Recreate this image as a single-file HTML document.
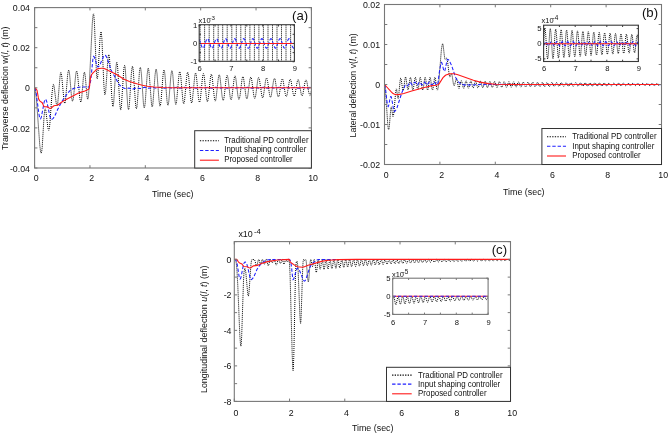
<!DOCTYPE html><html><head><meta charset="utf-8"><style>html,body{margin:0;padding:0;background:#fff;overflow:hidden}svg{display:block}text{fill:#111}.k,.kl,.b,.r{fill:none}.k{stroke:#000;stroke-width:1;stroke-dasharray:1 1}.kl{stroke:#000;stroke-width:1.1;stroke-dasharray:1.3 1.3}.b{stroke:#1f1fff;stroke-width:1.05;stroke-dasharray:3.4 1.9}.r{stroke:#ff1a1a;stroke-width:1.1}</style></head><body>
<svg style="filter:blur(0.3px)" width="668" height="433" viewBox="0 0 668 433" font-family="Liberation Sans, sans-serif">
<rect width="668" height="433" fill="#fff"/>
<defs>
<clipPath id="ca"><rect x="34.60" y="7.60" width="276.80" height="160.40"/></clipPath>
<clipPath id="ia"><rect x="199.20" y="24.70" width="95.20" height="36.60"/></clipPath>
<clipPath id="cb"><rect x="384.50" y="4.50" width="277.00" height="160.00"/></clipPath>
<clipPath id="ib"><rect x="543.60" y="25.20" width="94.80" height="36.30"/></clipPath>
<clipPath id="cc"><rect x="234.30" y="241.60" width="276.20" height="159.80"/></clipPath>
<clipPath id="ic"><rect x="392.70" y="278.20" width="95.40" height="36.20"/></clipPath>
</defs>
<g clip-path="url(#ca)">
<path class="k" d="M34.6 87.8l.4 .5l.4 2.0l1 8.1l3.4 47.1l.7 5.7l.4 1.5l.3 .5l.5 -1.6l.5 -4.4l1.8 -30.0l.8 -7.8l.2 -.5l.3 .1l.5 1.5l2.1 17.1l.5 2.4l.3 .3l.2 -.2l.5 -1.9l.5 -4.9l2.1 -29.9l1 -8.0l.2 -.8l.3 -.2l.6 1.7l2.1 17.1l.6 2.3l.2 .3l.2 -.2l.5 -2.0l.4 -4.1l1.9 -22.6l.4 -3.2l.4 -1.1l.2 .0l.3 .7l.4 2.7l2.1 22.6l.4 3.4l.5 1.4l.2 .0l.3 -.7l.4 -3.0l2 -24.5l.6 -4.1l.5 -1.1l.4 1.1l.5 3.1l1.8 21.3l.5 3.7l.4 1.9l.2 .1l.3 -.3l.6 -2.6l2.2 -22.4l.5 -3.7l.3 -.9l.3 -.3l.4 1.0l.5 2.7l2 21.7l.5 3.6l.5 1.9l.2 .3l.2 -.2l.6 -2.9l1.8 -21.6l.5 -3.7l.4 -1.6l.2 .0l.3 .9l.5 3.2l1.7 19.9l.5 2.6l.2 .4l.2 .0l.6 -3.5l.7 -9.7l3.1 -62.5l.6 -7.3l.4 -2.0l.3 -.4l.3 1.9l.5 6.7l1.8 44.9l.4 8.0l.4 3.1l.2 .4l.3 -.7l.4 -3.6l2.1 -35.6l.6 -5.8l.5 -1.4l.3 1.5l.5 5.7l1.9 44.5l.5 7.5l.4 3.6l.2 .3l.3 -.6l.5 -3.1l2.1 -30.4l.5 -4.9l.5 -1.3l.5 1.8l.5 5.9l1.9 33.4l.9 10.2l.3 .8l.2 -.3l.6 -3.8l2.1 -33.4l.6 -5.4l.4 -1.4l.4 1.3l.5 4.3l2 34.8l.5 5.0l.4 2.1l.2 -.1l.3 -1.0l.4 -4.0l2.1 -32.6l.5 -5.4l.5 -1.3l.4 1.1l.4 3.9l2.1 32.0l.5 5.6l.5 1.7l.2 -.1l.2 -1.1l.5 -3.9l2 -31.4l.6 -5.3l.4 -1.6l.4 .9l.5 3.5l2.1 31.6l.5 5.1l.5 1.4l.5 -1.5l.5 -5.1l2 -29.9l.5 -3.8l.3 -1.1l.2 -.1l.4 1.6l.6 5.1l2 29.2l.5 3.6l.3 1.0l.5 -1.1l.5 -3.6l2 -28.7l.6 -4.8l.4 -1.4l.5 1.3l.5 4.6l2.2 28.9l.4 3.2l.4 .7l.4 -.8l.4 -3.3l2 -27.3l.6 -4.9l.5 -1.5l.1 .1l.3 .9l.5 3.3l2 26.7l.6 4.6l.4 1.4l.5 -1.1l.5 -3.3l2 -26.1l.5 -4.5l.5 -1.2l.5 1.2l.5 4.3l2 25.5l.5 3.3l.5 1.1l.3 -.9l.5 -3.0l2 -24.9l.6 -4.4l.4 -1.4l.2 .1l.3 .8l.5 3.1l2 24.4l.6 4.2l.4 1.2l.5 -1.0l.4 -3.1l2.1 -23.8l.5 -4.0l.5 -1.1l.4 1.1l.6 3.9l2 23.3l.5 3.0l.5 .9l.3 -.7l.5 -2.8l2 -22.7l.6 -4.0l.4 -1.3l.5 .9l.5 2.8l2 22.2l.5 3.8l.5 1.1l.5 -.9l.4 -2.8l2.1 -21.8l.5 -3.6l.5 -1.0l.3 .7l.5 2.5l2 21.2l.6 3.8l.4 1.2l.2 .0l.3 -.7l.5 -2.5l2 -20.8l.6 -3.6l.4 -1.1l.5 .8l.4 2.5l2.1 20.4l.5 3.4l.5 1.0l.4 -.9l.6 -3.3l2.1 -20.5l.5 -2.2l.3 -.6l.4 .6l.5 2.3l2 19.4l.6 3.5l.4 1.1l.5 -.7l.4 -2.3l2.1 -19.0l.5 -3.3l.5 -1.0l.5 .8l.4 2.3l2 18.6l.6 3.1l.5 .9l.4 -.8l.6 -3.0l2 -18.2l.5 -2.3l.4 -.8l.4 .6l.5 2.1l2 17.7l.5 3.1l.5 1.0l.5 -.6l.4 -2.2l2.1 -17.3l.5 -3.0l.5 -.9l.4 .7l.5 2.2l2 17.0l.6 2.8l.4 .8l.5 -.8l.6 -2.7l2 -16.6l.5 -2.1l.4 -.7l.4 .5l.4 2.0l2.1 16.1l.5 2.9l.5 .9l.5 -.6l.4 -2.0l2 -15.8l.6 -2.7l.5 -.8l.4 .6l.5 2.0l2 15.5l.6 2.6l.4 .7l.5 -.7l.5 -2.0l1.9 -14.6l.5 -2.7l.5 -.9l.5 .5l.4 1.8l2.1 14.7l.5 2.6l.5 .8l.4 -.5l.5 -1.9l2 -14.4l.6 -2.5l.4 -.7l.5 .6l.5 1.9l2 14.1l.5 2.1l.4 .8l.5 -.4l.4 -1.6l2.1 -13.8l.5 -2.4l.5 -.8l.5 .4l.4 1.7l2 13.5l.6 2.3l.5 .7l.4 -.5l.5 -1.7l2 -13.1l.6 -2.3l.4 -.6l.5 .6l.4 1.6l2 12.4l.5 2.4l.5 .8l.5 -.4l.4 -1.5l2.1 -12.5l.5 -2.3l.5 -.7l.4 .4l.5 1.5l2 12.3l.5 1.9l.4 .9l.5 -.3l.6 -1.7l2 -12.0l.5 -1.8l.4 -.8l.5 .3l.5 1.7l2 11.4l.4 1.9l.5 .9l.2 .0l.3 -.2l.5 -1.5l2 -11.5l.5 -1.8l.5 -.8l.4 .2l.6 1.5l1.8 10.4l.9 3.0l.3 .4l.5 -.5l1 -4.1"/>
<path class="b" d="M34.6 87.8l.3 .2l.3 .7l.8 3.3l2.8 21.0l.6 3.6l.6 2.0l.3 .3l.4 -.2l.7 -1.8l2.7 -14.6l.7 -2.3l.3 -.6l.3 -.2l.4 .2l.3 .6l.9 2.4l2.4 11.6l.9 3.6l.7 1.6l.4 .3l.5 -.2l1.3 -1.0l1.3 -1.6l3.1 -7.1l2.9 -5.6l2.5 -4.2l4.3 -6.1l2.7 -3.1l1.6 -1.1l1.8 -.9l4.2 -1.2l3 -.4l8.3 .0l.2 -.2l.8 -2.3l.9 -4.4l1.9 -19.2l.4 -3.4l.4 -1.1l.5 .3l.6 1.1l2.5 8.0l.5 1.0l.5 .1l.8 -.6l.9 -1.3l3.7 -8.5l.7 -1.0l.7 -.4l.5 .2l.5 .6l1.2 2.2l3.4 10.3l1.1 2.9l3.9 6.5l3 5.9l.9 1.2l2.7 2.2l1.5 .9l1.4 .4l1.1 .1l3 -.4l2.8 .9l1 .1l3.6 -1.2l1 .0l2.1 .5l1 .1l1.1 -.2l2 -.9l1 -.1l3.9 1.0l4 -1.0l3.9 1.0l3.9 -1.0l.9 .1l2.1 .7l1 .2l3.9 -1.0l4 1.0l4 -1.0l3.9 1.0l3.9 -1.0l.9 .1l2.1 .7l1 .2l4 -1.0l3.9 1.0l4 -1.0l4 1.0l3.8 -1.0l4.1 1.0l3.9 -1.0l3.9 1.0l4 -1.0l4 1.0l3.9 -1.0l4 1.0l3.9 -1.0l4 1.0l3.9 -1.0l4 1.0l3.9 -1.0l4 1.0l3.9 -1.0l4 1.0l3.9 -1.0l.9 .1l2.1 .8l1 .1l3.9 -1.0l.9 .1l2.1 .8l1.1 .1l3.7 -1.0l1.1 .1l2 .8l1 .1l3.9 -1.0l.9 .1l2.1 .8l1 .1l1 -.1l2.7 -.9l1.1 .1l2.1 .7l1 .2l1 -.1l2.3 -.8l1.4 .0"/>
<path class="r" d="M34.6 87.8l1.1 .6l1.3 1.8l1.4 7.7l.4 1.5l1.2 1.7l2.2 1.6l1.7 3.7l.4 .2l3.2 .3l2 1.3l.6 .3l1.1 -.5l2.7 -2.2l3.1 -.6l1 -.3l3.5 -2.7l3.7 -2.3l12.4 -6.4l2.1 -.9l5.2 -1.5l3.6 -1.8l.6 -.7l.3 -1.2l1.2 -10.4l1.1 -2.5l1.3 -1.7l4 -3.6l1 -.5l3.4 -.5l1.9 .0l1.5 .5l3.5 1.9l7.9 3.7l7.4 4.7l5.8 2.4l7.4 2.4l5.5 1.5l5.1 1.0l6.6 .7l8.2 .5l10 .3l139.2 .0"/>
</g>
<rect x="34.60" y="7.60" width="276.80" height="160.40" fill="none" stroke="#777" stroke-width="1.1"/>
<path d="M34.60 168.00v-2.8M34.60 7.60v2.8M89.96 168.00v-2.8M89.96 7.60v2.8M145.32 168.00v-2.8M145.32 7.60v2.8M200.68 168.00v-2.8M200.68 7.60v2.8M256.04 168.00v-2.8M256.04 7.60v2.8M311.40 168.00v-2.8M311.40 7.60v2.8M34.60 168.00h2.8M311.40 168.00h-2.8M34.60 147.95h2.8M311.40 147.95h-2.8M34.60 127.90h2.8M311.40 127.90h-2.8M34.60 107.85h2.8M311.40 107.85h-2.8M34.60 87.80h2.8M311.40 87.80h-2.8M34.60 67.75h2.8M311.40 67.75h-2.8M34.60 47.70h2.8M311.40 47.70h-2.8M34.60 27.65h2.8M311.40 27.65h-2.8M34.60 7.60h2.8M311.40 7.60h-2.8" stroke="#777" stroke-width="0.99" fill="none"/>
<text x="30.00" y="11.20" font-size="9.240000000000002" text-anchor="end"  textLength="17.13" lengthAdjust="spacingAndGlyphs">0.04</text>
<text x="30.00" y="51.30" font-size="9.240000000000002" text-anchor="end"  textLength="17.13" lengthAdjust="spacingAndGlyphs">0.02</text>
<text x="30.00" y="91.40" font-size="9.240000000000002" text-anchor="end"  textLength="4.89" lengthAdjust="spacingAndGlyphs">0</text>
<text x="30.00" y="131.50" font-size="9.240000000000002" text-anchor="end"  textLength="20.06" lengthAdjust="spacingAndGlyphs">-0.02</text>
<text x="30.00" y="171.60" font-size="9.240000000000002" text-anchor="end"  textLength="20.06" lengthAdjust="spacingAndGlyphs">-0.04</text>
<text x="36.30" y="180.80" font-size="9.240000000000002" text-anchor="middle"  textLength="4.89" lengthAdjust="spacingAndGlyphs">0</text>
<text x="91.66" y="180.80" font-size="9.240000000000002" text-anchor="middle"  textLength="4.89" lengthAdjust="spacingAndGlyphs">2</text>
<text x="147.02" y="180.80" font-size="9.240000000000002" text-anchor="middle"  textLength="4.89" lengthAdjust="spacingAndGlyphs">4</text>
<text x="202.38" y="180.80" font-size="9.240000000000002" text-anchor="middle"  textLength="4.89" lengthAdjust="spacingAndGlyphs">6</text>
<text x="257.74" y="180.80" font-size="9.240000000000002" text-anchor="middle"  textLength="4.89" lengthAdjust="spacingAndGlyphs">8</text>
<text x="313.10" y="180.80" font-size="9.240000000000002" text-anchor="middle"  textLength="9.79" lengthAdjust="spacingAndGlyphs">10</text>
<text x="172.80" y="197.10" font-size="8.9" text-anchor="middle" >Time (sec)</text>
<text transform="translate(7.6 88.3) rotate(-90)" font-size="8.2" text-anchor="middle" textLength="123.5" lengthAdjust="spacingAndGlyphs">Transverse deflection w(<tspan font-style="italic">l</tspan>, <tspan font-style="italic">t</tspan>) (m)</text>
<text x="300.10" y="20.30" font-size="13.2" text-anchor="middle" >(a)</text>
<rect x="199.2" y="24.7" width="95.20" height="36.60" fill="#fff"/>
<g clip-path="url(#ia)">
<path class="k" d="M200.1 24.7V61.3M204.6 24.7V61.3M209.2 24.7V61.3M213.7 24.7V61.3M218.2 24.7V61.3M222.7 24.7V61.3M227.2 24.7V61.3M231.8 24.7V61.3M236.3 24.7V61.3M240.8 24.7V61.3M245.3 24.7V61.3M249.9 24.7V61.3M254.4 24.7V61.3M258.9 24.7V61.3M263.4 24.7V61.3M268.0 24.7V61.3M272.5 24.7V61.3M277.0 24.7V61.3M281.5 24.7V61.3M286.0 24.7V61.3M290.6 24.7V61.3"/>
<path class="b" d="M199.2 39.4l.7 1.7l1.9 5.7l.6 1.0l.5 .4l.5 -.2l.5 -.8l2.4 -7.0l.6 -1.1l.6 -.4l.5 .3l.5 .8l2.3 6.9l.6 1.1l.6 .4l.5 -.2l.5 -.9l2.4 -6.9l.6 -1.2l.6 -.3l.4 .3l.5 .8l2.4 6.9l.6 1.1l.5 .4l.5 -.2l.6 -.8l2.3 -7.0l.6 -1.1l.6 -.4l.5 .3l.5 .8l2.3 6.8l.6 1.2l.6 .4l.5 -.2l.5 -.9l2.4 -6.9l.6 -1.1l.6 -.4l.5 .3l.5 .8l2.3 6.9l.6 1.1l.6 .4l.5 -.2l.5 -.9l2.4 -7.0l.6 -1.1l.5 -.3l.5 .3l.6 .8l2.3 6.9l.6 1.1l.5 .4l.5 -.2l.6 -.8l2.3 -7.0l.6 -1.1l.6 -.4l.5 .3l.5 .8l2.3 6.9l.6 1.1l.6 .4l.5 -.2l.5 -.9l2.4 -6.9l.6 -1.2l.6 -.3l.5 .3l.5 .8l2.3 6.8l.6 1.1l.5 .5l.5 -.2l.6 -.8l2.4 -7.1l.6 -1.0l.5 -.4l.5 .3l.6 .9l2.2 6.7l.6 1.1l.5 .5l.6 -.2l.5 -.8l2.4 -7.0l.6 -1.1l.6 -.4l.5 .3l.6 .9l2.2 6.5l.5 1.2l.5 .5l.6 .0l.6 -.8l2.4 -7.2l.6 -1.1l.6 -.3l.5 .3l.6 1.1l1.9 5.8l.7 1.6l.8 .7l.4 -.1l.4 -.6"/>
<path class="r" d="M199.2 43.5l95.2 .0"/>
</g>
<rect x="199.20" y="24.70" width="95.20" height="36.60" fill="none" stroke="#3a3a3a" stroke-width="1.1"/>
<path d="M199.20 61.30v-1.8M199.20 24.70v1.8M215.07 61.30v-1.8M215.07 24.70v1.8M230.93 61.30v-1.8M230.93 24.70v1.8M246.80 61.30v-1.8M246.80 24.70v1.8M262.67 61.30v-1.8M262.67 24.70v1.8M278.53 61.30v-1.8M278.53 24.70v1.8M294.40 61.30v-1.8M294.40 24.70v1.8M199.20 61.75h1.8M294.40 61.75h-1.8M199.20 52.60h1.8M294.40 52.60h-1.8M199.20 43.45h1.8M294.40 43.45h-1.8M199.20 34.30h1.8M294.40 34.30h-1.8M199.20 25.15h1.8M294.40 25.15h-1.8" stroke="#3a3a3a" stroke-width="0.99" fill="none"/>
<text x="197.30" y="27.75" font-size="7.7" text-anchor="end" >1</text>
<text x="197.30" y="46.05" font-size="7.7" text-anchor="end" >0</text>
<text x="197.30" y="64.35" font-size="7.7" text-anchor="end" >-1</text>
<text x="199.70" y="71.00" font-size="7.6" text-anchor="middle" >6</text>
<text x="231.43" y="71.00" font-size="7.6" text-anchor="middle" >7</text>
<text x="263.17" y="71.00" font-size="7.6" text-anchor="middle" >8</text>
<text x="294.90" y="71.00" font-size="7.6" text-anchor="middle" >9</text>
<text x="198.60" y="23.00" font-size="7.4" text-anchor="start" >x10</text>
<text x="209.40" y="19.60" font-size="6.2" text-anchor="start" >-3</text>
<rect x="194.70" y="130.70" width="116.70" height="37.30" fill="#fff" stroke="#333" stroke-width="1"/>
<path d="M199.90 140.70H218.90" class="kl"/>
<text x="224.20" y="142.60" font-size="8.295" text-anchor="start"  textLength="84.45" lengthAdjust="spacingAndGlyphs">Traditional PD controller</text>
<path d="M199.90 150.50H218.90" class="b"/>
<text x="224.20" y="152.40" font-size="8.295" text-anchor="start"  textLength="82.12" lengthAdjust="spacingAndGlyphs">Input shaping controller</text>
<path d="M199.90 160.20H218.90" class="r"/>
<text x="224.20" y="162.00" font-size="8.295" text-anchor="start"  textLength="68.50" lengthAdjust="spacingAndGlyphs">Proposed controller</text>
<g clip-path="url(#cb)">
<path class="k" d="M384.5 84.5l.5 1.5l.5 5.1l2.3 33.6l.4 3.9l.5 1.1l.2 -.6l.4 -2.4l1.2 -14.7l.5 -4.5l.3 -.6l.3 .6l1.1 8.2l.3 .8l.4 -.5l.6 -4.2l1.4 -16.8l.6 -5.1l.3 -1.0l.3 .4l1.1 8.2l.3 1.0l.2 -.1l.6 -3.9l1.3 -13.7l.5 -2.7l.3 .2l.3 1.0l1.3 9.3l.4 1.5l.2 .4l.3 -.4l.3 -1.2l1.2 -9.3l.5 -2.6l.3 .0l.3 1.0l1.4 10.0l.4 1.5l.3 .4l.2 -.4l.4 -1.6l1.3 -9.4l.3 -1.0l.2 -.2l.7 2.3l1.1 8.8l.6 1.7l.3 -.3l.3 -1.5l1.3 -9.6l.4 -1.2l.3 -.2l.5 2.1l1.3 9.2l.2 1.1l.3 .4l.3 -.4l.3 -1.6l1.4 -9.5l.2 -1.0l.3 -.3l.6 2.3l1.3 9.1l.3 1.1l.2 .3l.3 -.5l.4 -1.7l1.2 -9.1l.3 -1.1l.3 -.4l.2 .5l.4 1.6l1.2 9.1l.3 1.2l.3 .4l.3 -.4l.3 -1.5l1.3 -9.6l.3 -1.0l.3 -.3l.3 .6l.3 1.7l1.2 9.1l.3 1.1l.3 .3l.3 -.5l.3 -1.6l1.3 -9.2l.2 -1.1l.3 -.4l.3 .5l.3 1.4l1.2 9.5l.3 .9l.4 .5l.2 -.2l.6 -2.5l.6 -5.3l2.6 -32.5l.7 -4.4l.5 -1.5l.3 .3l.3 1.6l1.2 10.5l.5 2.8l.2 .4l.3 -.1l1 -.9l.4 -.2l.5 1.2l1.7 14.0l.6 3.3l.2 .3l.3 -.1l1.1 -2.8l.3 -.3l.3 .2l.4 2.0l1.2 8.1l.6 1.7l.3 -.2l.4 -.9l1.4 -5.5l.3 -.6l.3 .1l.5 1.9l1.1 6.6l.6 1.3l.3 -.2l.2 -.8l1.2 -5.4l.6 -1.3l.3 .1l.3 .7l1.2 5.6l.4 .9l.3 .3l.5 -1.0l1.2 -5.2l.4 -1.0l.2 -.3l.3 .2l.3 .7l1.2 5.4l.4 .8l.3 .3l.2 -.3l.4 -1.0l1.2 -5.1l.5 -.9l.6 .9l1.1 5.0l.7 1.2l.2 -.1l.3 -.7l1.3 -5.1l.3 -.9l.3 -.2l.5 .9l1.2 4.9l.4 .9l.2 .2l.3 -.2l.4 -.8l1.2 -5.0l.3 -.6l.3 -.2l.6 1.2l1.2 4.7l.5 .8l.6 -.8l1.2 -4.6l.6 -1.2l.3 .2l.2 .6l1.3 4.7l.3 .8l.3 .2l.5 -.7l1.2 -4.6l.4 -.8l.3 -.3l.2 .2l.4 .8l1.2 4.6l.6 .7l.6 -1.1l1.2 -4.3l.5 -.8l.6 .8l1.2 4.3l.6 1.0l.5 -.7l1.3 -4.3l.3 -.8l.3 -.2l.6 1.0l1.3 4.3l.5 .6l.5 -.7l1.2 -4.0l.6 -1.1l.6 .7l1.2 4.1l.4 .7l.2 .2l.6 -.7l1.2 -3.9l.6 -1.0l.6 .7l1.2 4.0l.4 .7l.2 .1l.7 -.9l1.1 -3.8l.6 -.7l.5 .7l1.2 3.7l.6 .9l.6 -.5l1.2 -3.9l.4 -.6l.3 -.2l.5 .7l1.2 3.6l.6 .9l.6 -.6l1.2 -3.8l.4 -.6l.2 -.1l.7 .8l1.1 3.5l.6 .7l.6 -.6l1.1 -3.5l.7 -.8l.5 .5l1.3 3.5l.6 .8l.5 -.6l1.2 -3.4l.6 -.8l.7 .8l1.2 3.4l.6 .5l.6 -.8l1.2 -3.2l.5 -.6l.6 .6l1.1 3.2l.7 .7l.5 -.5l1.3 -3.2l.6 -.7l.5 .4l1.2 3.2l.6 .8l.7 -.7l1.2 -3.1l.6 -.5l.6 .7l1.2 3.0l.5 .5l.6 -.5l1.2 -2.9l.6 -.8l.5 .5l1.3 3.0l.6 .6l.6 -.6l1.3 -3.0l.5 -.4l.6 .6l1.2 2.9l.6 .5l.6 -.7l1.2 -2.7l.5 -.5l.6 .5l1.2 2.6l.6 .7l.5 -.4l1.3 -2.8l.6 -.6l.6 .7l1.2 2.6l.6 .4l.5 -.4l1.2 -2.6l.6 -.6l.6 .4l1.2 2.6l.7 .6l.5 -.5l1.2 -2.5l.6 -.6l.6 .5l1.2 2.5l.6 .5l.7 -.6l1.1 -2.4l.6 -.4l.5 .4l1.2 2.4l.6 .6l.6 -.4l1.2 -2.4l.7 -.5l.5 .4l1.2 2.3l.6 .5l.6 -.4l1.2 -2.3l.6 -.5l.5 .4l1.3 2.3l.6 .5l.6 -.4l1.1 -2.2l.7 -.5l.5 .3l1.3 2.2l.6 .5l.5 -.3l1.2 -2.2l.6 -.5l.7 .5l1.2 2.1l.6 .4l.6 -.5l1.2 -2.1l.5 -.3l.6 .3l1.1 2.0l.7 .5l.5 -.3l1.3 -2.1l.6 -.4l.6 .5l1.3 2.0l.5 .3l.5 -.4l1.2 -1.9l.6 -.4l.6 .2l1.2 2.0l.6 .4l.6 -.3l1.2 -1.9l.6 -.4l.5 .3l1.3 1.9l.6 .4l.6 -.4l1.2 -1.8l.6 -.4l.5 .3l1.2 1.8l.6 .4l.6 -.2l1.2 -1.8l.6 -.4l.6 .3l1.2 1.7l.6 .4l.6 -.3l1.2 -1.7l.6 -.4l.5 .3l1.3 1.7l.6 .4l.5 -.3l1.2 -1.6l.6 -.4l.6 .2l1.2 1.7l.7 .3l.5 -.3l1.2 -1.5l.6 -.4l.6 .3l1.3 1.6l.5 .3l.6 -.3l1.2 -1.5l.5 -.4l.6 .2l1.2 1.6l.6 .4l.6 -.3l1.2 -1.5l.6 -.3l.6 .2l1.2 1.5l.6 .3l.6 -.2l1.6 -1.8l.7 .2l1.3 1.5l.6 .3l.6 -.3l1.3 -1.5l.6 -.2"/>
<path class="b" d="M384.5 84.5l.4 .7l.5 2.5l1.6 14.1l.8 4.2l.4 .5l.4 -.7l1.6 -8.1l.5 -1.1l.3 .0l.4 .8l.4 1.7l1.8 10.7l.5 1.4l.4 .5l1.2 -1.6l1.5 -2.9l4.6 -14.5l1.1 -2.5l1 -1.8l.8 -2.3l.5 -1.0l.6 -.2l1.2 .8l.6 .0l.6 -.7l1.2 -2.2l.6 -.5l.6 .4l1.3 1.9l.6 .3l.5 -.5l1.2 -1.9l.6 -.4l.5 .3l1.3 2.0l.6 .5l.5 -.3l1.3 -2.0l.6 -.5l.6 .3l1.2 2.0l.6 .5l.6 -.3l1.2 -2.0l.7 -.5l.5 .3l1.3 2.0l.5 .5l.6 -.3l1.3 -2.0l.6 -.5l.6 .3l1.1 1.9l.6 .6l.6 -.2l1.3 -2.1l.7 -.5l.6 .4l1.4 2.2l.3 .2l.4 -.1l.5 -.6l.6 -1.2l1.1 -9.4l1.2 -7.1l.8 -3.4l.5 -.6l.4 .6l1.7 7.1l.4 .9l.3 .2l.4 -.6l.4 -1.3l1.7 -8.6l.4 -1.2l.4 -.3l.7 .3l.8 1.0l2.4 4.9l2.7 8.1l1.6 4.3l1.1 2.0l1.5 2.1l1.5 1.3l4.6 1.8l2.5 -.5l2.5 .5l2.2 -.6l2.5 .4l2.3 -.6l2.4 .5l2.3 -.6l2.4 .6l2.4 -.6l2.4 .6l2.4 -.6l2.3 .6l2.4 -.6l2.4 .6l2.4 -.6l2.4 .6l2.4 -.6l2.3 .6l2.4 -.6l2.4 .6l2.4 -.6l2.4 .6l2.3 -.6l2.5 .6l2.3 -.6l2.4 .6l2.4 -.6l2.3 .6l2.5 -.6l2.3 .6l2.4 -.6l2.4 .6l2.4 -.6l2.4 .6l2.3 -.6l2.4 .6l2.4 -.6l2.4 .6l2.3 -.6l2.5 .6l2.3 -.6l2.4 .6l2.4 -.6l2.3 .6l2.5 -.6l2.3 .6l2.4 -.6l2.4 .6l2.4 -.6l2.4 .6l2.3 -.6l2.5 .6l2.3 -.6l2.4 .6l2.4 -.6l2.4 .6l2.3 -.6l2.4 .6l2.4 -.6l2.4 .6l2.4 -.6l2.3 .6l2.4 -.6l2.4 .6l2.4 -.6l2.4 .6l2.3 -.6l2.5 .6l2.3 -.6l2.4 .6l2.4 -.6l2.3 .6l2.4 -.6l2.4 .6l2.4 -.6l2.4 .6l2.4 -.6l2.3 .6l2.4 -.6l2.4 .6l2.3 -.6l2.4 .6l1.6 -.4"/>
<path class="r" d="M384.5 84.5l7 7.7l1.2 1.0l1.8 1.0l1.2 .5l3.9 -.3l4.2 -.9l7.9 -2.5l16.5 -4.5l2.6 -.6l5 -.6l2.3 -.6l1 -.9l3.9 -6.1l1.7 -1.7l1.2 -.9l1.6 -.7l1.8 -.5l1.4 -.2l3.5 .1l3.7 .9l15.5 5.6l6.8 1.8l8.1 1.5l7.6 .6l19.8 .3l145.8 .0"/>
</g>
<rect x="384.50" y="4.50" width="277.00" height="160.00" fill="none" stroke="#777" stroke-width="1.1"/>
<path d="M384.50 164.50v-2.8M384.50 4.50v2.8M439.90 164.50v-2.8M439.90 4.50v2.8M495.30 164.50v-2.8M495.30 4.50v2.8M550.70 164.50v-2.8M550.70 4.50v2.8M606.10 164.50v-2.8M606.10 4.50v2.8M661.50 164.50v-2.8M661.50 4.50v2.8M384.50 164.50h2.8M661.50 164.50h-2.8M384.50 144.50h2.8M661.50 144.50h-2.8M384.50 124.50h2.8M661.50 124.50h-2.8M384.50 104.50h2.8M661.50 104.50h-2.8M384.50 84.50h2.8M661.50 84.50h-2.8M384.50 64.50h2.8M661.50 64.50h-2.8M384.50 44.50h2.8M661.50 44.50h-2.8M384.50 24.50h2.8M661.50 24.50h-2.8M384.50 4.50h2.8M661.50 4.50h-2.8" stroke="#777" stroke-width="0.99" fill="none"/>
<text x="380.10" y="8.10" font-size="9.240000000000002" text-anchor="end"  textLength="17.13" lengthAdjust="spacingAndGlyphs">0.02</text>
<text x="380.10" y="48.10" font-size="9.240000000000002" text-anchor="end"  textLength="17.13" lengthAdjust="spacingAndGlyphs">0.01</text>
<text x="380.10" y="88.10" font-size="9.240000000000002" text-anchor="end"  textLength="4.89" lengthAdjust="spacingAndGlyphs">0</text>
<text x="380.10" y="128.10" font-size="9.240000000000002" text-anchor="end"  textLength="20.06" lengthAdjust="spacingAndGlyphs">-0.01</text>
<text x="380.10" y="168.10" font-size="9.240000000000002" text-anchor="end"  textLength="20.06" lengthAdjust="spacingAndGlyphs">-0.02</text>
<text x="386.20" y="177.50" font-size="9.240000000000002" text-anchor="middle"  textLength="4.89" lengthAdjust="spacingAndGlyphs">0</text>
<text x="441.60" y="177.50" font-size="9.240000000000002" text-anchor="middle"  textLength="4.89" lengthAdjust="spacingAndGlyphs">2</text>
<text x="497.00" y="177.50" font-size="9.240000000000002" text-anchor="middle"  textLength="4.89" lengthAdjust="spacingAndGlyphs">4</text>
<text x="552.40" y="177.50" font-size="9.240000000000002" text-anchor="middle"  textLength="4.89" lengthAdjust="spacingAndGlyphs">6</text>
<text x="607.80" y="177.50" font-size="9.240000000000002" text-anchor="middle"  textLength="4.89" lengthAdjust="spacingAndGlyphs">8</text>
<text x="663.20" y="177.50" font-size="9.240000000000002" text-anchor="middle"  textLength="9.79" lengthAdjust="spacingAndGlyphs">10</text>
<text x="523.80" y="194.60" font-size="8.9" text-anchor="middle" >Time (sec)</text>
<text transform="translate(355.6 85.4) rotate(-90)" font-size="8.2" text-anchor="middle" textLength="104.2" lengthAdjust="spacingAndGlyphs">Lateral deflection v(<tspan font-style="italic">l</tspan>, <tspan font-style="italic">t</tspan>) (m)</text>
<text x="650.00" y="16.70" font-size="13.2" text-anchor="middle" >(b)</text>
<rect x="543.6" y="25.2" width="94.80" height="36.30" fill="#fff"/>
<g clip-path="url(#ib)">
<path class="k" d="M543.6 42.1l.8 -12.0l.4 -1.9l.1 -.1l.2 .5l.6 5.5l1.2 20.6l.4 3.3l.3 1.1l.3 -1.3l.4 -3.4l1.4 -22.3l.3 -2.7l.3 -.8l.3 1.2l.4 3.4l1.4 21.9l.3 2.7l.3 .8l.4 -1.2l.3 -3.4l1.4 -21.6l.4 -2.6l.2 -.7l.4 1.2l.3 3.3l1.5 21.2l.3 2.5l.3 .8l.2 -.8l.4 -2.6l1.3 -20.5l.4 -3.3l.3 -1.3l.3 .6l.3 2.3l1.5 20.9l.3 3.1l.4 1.1l.3 -.8l.3 -2.4l1.4 -19.9l.3 -3.2l.4 -1.3l.3 .8l.3 2.4l1.4 19.6l.4 3.1l.3 1.3l.3 -.8l.3 -2.4l1.4 -19.2l.4 -3.2l.3 -1.2l.3 .8l.4 2.4l1.3 18.9l.4 3.1l.3 1.1l.4 -.7l.3 -2.4l1.4 -18.5l.3 -3.1l.4 -1.1l.3 .7l.3 2.3l1.4 18.3l.3 3.0l.4 1.1l.3 -.6l.3 -2.1l1.4 -18.3l.3 -2.9l.4 -1.1l.3 .6l.3 2.1l1.4 18.0l.4 2.8l.3 1.1l.3 -.6l.3 -2.0l1.4 -17.7l.4 -2.9l.3 -1.0l.3 .5l.3 2.1l1.5 17.4l.3 2.8l.3 1.0l.3 -.5l.3 -2.1l1.5 -17.1l.3 -2.7l.4 -1.0l.3 .5l.3 2.0l1.4 16.9l.3 2.7l.4 .9l.3 -.5l.3 -2.0l1.4 -16.6l.4 -2.6l.3 -1.0l.3 .6l.3 1.9l1.4 16.3l.4 2.6l.3 1.0l.3 -.6l.3 -1.9l1.4 -16.0l.4 -2.6l.3 -.9l.3 .5l.3 1.9l1.5 15.8l.3 2.5l.4 .9l.2 -.5l.4 -1.9l1.4 -15.5l.3 -2.5l.3 -.8l.4 .5l.3 1.8l1.4 15.3l.3 2.4l.4 .9l.3 -.5l.3 -1.8l1.4 -15.1l.4 -2.4l.3 -.8l.3 .5l.3 1.8l1.4 14.8l.4 2.3l.3 .8l.3 -.5l.3 -1.7l1.5 -14.6l.3 -2.3l.3 -.8l.3 .5l.4 1.7l1.4 14.4l.3 2.2l.3 .8l.4 -.5l.3 -1.7l1.4 -13.8l.3 -2.3l.3 -.9l.3 .3l.4 1.8l1.4 13.9l.4 2.1l.3 .8l.3 -.5l.3 -1.6l1.4 -13.4l.6 -3.1l.2 .0l.2 .3l.3 1.8l1.4 13.1l.6 3.0l.2 .1l.2 -.4l.4 -1.9l1.2 -12.0l.6 -3.4l.3 -.3l.3 .8l.8 5.8"/>
<path class="b" d="M543.6 45.5l.5 -.7l1.2 -2.4l.5 -.6l.4 .0l.3 .3l1.5 3.0l.7 .6l.7 -.6l1.4 -2.9l.6 -.5l.7 .6l1.5 3.0l.7 .4l.6 -.7l1.3 -2.8l.7 -.5l.7 .6l1.4 2.9l.7 .5l.6 -.7l1.4 -2.8l.6 -.5l.7 .6l1.4 2.9l.7 .5l.7 -.7l1.3 -2.8l.7 -.5l.6 .6l1.5 2.9l.6 .5l.7 -.7l1.4 -2.8l.6 -.5l.7 .7l1.4 2.8l.6 .5l.7 -.7l1.4 -2.8l.6 -.5l.7 .7l1.4 2.8l.7 .5l.6 -.7l1.4 -2.8l.7 -.5l.7 .7l1.4 2.8l.6 .5l.7 -.7l1.4 -2.8l.6 -.5l.7 .7l1.4 2.8l.6 .5l.7 -.7l1.4 -2.8l.6 -.5l.7 .6l1.5 2.9l.6 .5l.6 -.7l1.4 -2.8l.6 -.5l.7 .6l1.5 2.9l.6 .5l.7 -.7l1.4 -2.8l.6 -.5l.7 .6l1.4 2.9l.6 .5l.7 -.7l1.4 -2.8l.6 -.5l.7 .6l1.5 2.9l.6 .5l.7 -.7l1.4 -2.8l.6 -.5l.6 .6l1.5 2.9l.6 .5l.7 -.7l1.4 -2.8l.6 -.5l.7 .6l1.4 2.9l.6 .5l.7 -.7l1.4 -2.8l.6 -.5l.7 .6l1.4 2.9l.7 .5l.7 -.7l1.4 -2.8l.6 -.5l.7 .6l1.4 2.9l.6 .5l.7 -.7l1.4 -2.8l.6 -.5"/>
<path class="r" d="M543.6 43.7l94.8 .0"/>
</g>
<rect x="543.60" y="25.20" width="94.80" height="36.30" fill="none" stroke="#3a3a3a" stroke-width="1.1"/>
<path d="M543.60 61.50v-1.8M543.60 25.20v1.8M559.40 61.50v-1.8M559.40 25.20v1.8M575.20 61.50v-1.8M575.20 25.20v1.8M591.00 61.50v-1.8M591.00 25.20v1.8M606.80 61.50v-1.8M606.80 25.20v1.8M622.60 61.50v-1.8M622.60 25.20v1.8M638.40 61.50v-1.8M638.40 25.20v1.8M543.60 58.83h1.8M638.40 58.83h-1.8M543.60 43.70h1.8M638.40 43.70h-1.8M543.60 28.58h1.8M638.40 28.58h-1.8" stroke="#3a3a3a" stroke-width="0.99" fill="none"/>
<text x="541.60" y="31.18" font-size="7.7" text-anchor="end" >5</text>
<text x="541.60" y="46.30" font-size="7.7" text-anchor="end" >0</text>
<text x="541.60" y="61.43" font-size="7.7" text-anchor="end" >-5</text>
<text x="544.10" y="71.20" font-size="7.6" text-anchor="middle" >6</text>
<text x="575.70" y="71.20" font-size="7.6" text-anchor="middle" >7</text>
<text x="607.30" y="71.20" font-size="7.6" text-anchor="middle" >8</text>
<text x="638.90" y="71.20" font-size="7.6" text-anchor="middle" >9</text>
<text x="541.60" y="23.20" font-size="7.4" text-anchor="start" >x10</text>
<text x="552.60" y="20.00" font-size="6.4" text-anchor="start" >-4</text>
<rect x="541.90" y="128.50" width="119.60" height="36.00" fill="#fff" stroke="#333" stroke-width="1"/>
<path d="M547.00 136.80H566.00" class="kl"/>
<text x="572.20" y="139.20" font-size="8.295" text-anchor="start"  textLength="84.45" lengthAdjust="spacingAndGlyphs">Traditional PD controller</text>
<path d="M547.00 146.20H566.00" class="b"/>
<text x="572.20" y="148.50" font-size="8.295" text-anchor="start"  textLength="82.12" lengthAdjust="spacingAndGlyphs">Input shaping controller</text>
<path d="M547.00 156.00H566.00" class="r"/>
<text x="572.20" y="157.80" font-size="8.295" text-anchor="start"  textLength="68.50" lengthAdjust="spacingAndGlyphs">Proposed controller</text>
<g clip-path="url(#cc)">
<path class="k" d="M234.3 259.4l1 .2l.6 1.3l.5 3.3l.5 5.2l.9 16.1l2 49.4l.6 8.3l.3 2.2l.2 .8l.4 -2.4l.4 -8.2l1.8 -54.8l.5 -8.6l.7 -3.7l.2 -.1l.3 .6l.6 3.2l1.8 20.1l.4 2.9l.4 .9l.3 -1.1l.4 -3.8l1.8 -26.4l.5 -3.7l.6 -1.6l.3 -.1l.9 .2l.9 -.2l.4 .2l.5 1.3l1.1 4.2l.6 .9l.4 -.7l1.1 -5.0l.5 -.9l.4 .5l1 3.4l.4 .8l.5 -.7l1.1 -3.6l.2 -.4l.3 .0l.4 .9l.9 3.3l.5 .7l.5 -.8l1 -3.6l.2 -.5l.2 .0l.5 1.1l1 4.5l.5 .8l.5 -1.1l1.1 -4.5l.5 -.8l.4 .6l.9 2.6l.4 .4l.5 -.5l1.1 -2.8l.2 -.3l.3 .0l.5 1.0l1.1 4.1l.5 .6l.5 -.7l1 -3.9l.6 -1.1l.4 .4l1.1 3.1l.5 .7l.5 -.6l.9 -3.2l.3 -.4l.2 .0l.4 .9l.9 3.5l.4 .5l.4 -.6l.9 -3.3l.4 -1.0l.2 .0l.2 .2l.8 2.0l.4 .4l.5 -.5l.7 -2.0l.2 -.1l.2 .1l.3 1.4l.3 2.7l.6 12.2l2.1 78.7l.5 12.0l.2 3.4l.2 .7l.3 -3.2l.4 -11.1l1.6 -79.2l.5 -11.9l.4 -3.1l.4 -1.1l.4 .4l.4 1.7l.6 6.7l1.8 46.0l.4 5.7l.3 1.9l.3 -2.0l.3 -7.1l1.5 -46.3l.4 -6.4l.5 -2.2l.9 1.0l1.1 -1.0l.5 1.2l.5 4.5l1.1 13.7l.4 2.5l.2 .6l.3 -.9l.3 -2.3l1.2 -16.3l.4 -2.4l.3 -.6l.4 1.0l.9 5.3l.4 .9l.4 -1.0l1 -5.8l.3 -.4l.2 .2l.4 2.2l1.1 9.2l.2 1.3l.3 .2l.4 -1.9l1.1 -9.5l.5 -1.7l.4 1.6l1 7.2l.4 1.0l.5 -1.5l1 -7.4l.3 -.9l.2 .0l.4 1.6l1 7.2l.3 1.2l.2 .2l.4 -1.2l1 -7.5l.5 -1.5l.4 .9l1.1 7.6l.5 1.2l.5 -1.5l1 -7.1l.5 -1.1l.4 1.2l1.1 7.2l.5 .9l.4 -1.4l1.1 -6.9l.4 -1.0l.5 1.1l1.1 6.9l.4 .9l.5 -1.4l1 -6.5l.4 -1.0l.5 1.1l1.1 6.6l.4 .8l.5 -1.3l1.1 -6.3l.4 -.9l.5 1.0l1.1 6.3l.4 .8l.5 -1.3l1 -5.9l.4 -.9l.5 1.0l1.1 6.0l.4 .7l.5 -1.2l1 -5.7l.4 -.8l.5 .9l1.1 5.8l.4 .7l.5 -1.2l1.1 -5.4l.4 -.8l.5 .9l1.1 5.5l.4 .7l.5 -1.1l1 -5.2l.4 -.8l.5 .9l1 5.0l.5 .8l.5 -1.0l1 -5.0l.5 -.7l.4 .8l1.1 4.8l.5 .8l.4 -1.0l1.1 -4.7l.4 -.7l.5 .8l1 4.6l.5 .8l.5 -1.0l1 -4.6l.4 -.6l.5 .8l1 4.3l.5 .8l.5 -1.0l1 -4.3l.5 -.6l.4 .5l1 4.2l.5 .9l.5 -.7l1 -4.1l.5 -.8l.4 .5l1.1 4.0l.4 .9l.5 -.7l1.1 -4.0l.4 -.7l.5 .5l1 3.8l.5 .8l.5 -.6l1 -3.8l.5 -.7l.4 .5l1 3.6l.5 .8l.5 -.6l1 -3.6l.5 -.7l.4 .4l1.1 3.5l.4 .8l.5 -.6l1.1 -3.5l.4 -.6l.5 .4l1 3.3l.5 .8l.5 -.6l1 -3.3l.5 -.6l.4 .4l1 3.2l.5 .7l.5 -.6l1 -3.1l.5 -.6l.4 .4l1.1 3.0l.5 .7l.4 -.5l1.1 -3.1l.5 -.5l.4 .4l1 2.9l.5 .6l.5 -.5l1 -2.9l.5 -.5l.4 .3l1 2.8l.5 .6l.5 -.5l1 -2.7l.5 -.5l.4 .3l1.1 2.7l.5 .5l.4 -.4l1.1 -2.6l.5 -.5l.4 .3l1 2.5l.5 .6l.5 -.5l1 -2.5l.5 -.4l.4 .3l1.1 2.4l.4 .5l.5 -.4l1.1 -2.4l.4 -.4l.5 .3l1 2.3l.5 .5l.5 -.4l1 -2.3l.5 -.4l.4 .3l1 2.2l.5 .4l.4 -.2l1.1 -2.3l.5 -.4l.4 .3l1.1 2.1l.4 .4l.5 -.3l1.1 -2.1l.5 -.4l.4 .3l1 2.0l.5 .4l.4 -.3l1.1 -2.1l.5 -.3l.4 .2l1 2.0l.5 .4l.4 -.3l1.1 -2.0l.5 -.3l.4 .2l1.1 1.9l.5 .3l.4 -.2l1.1 -1.9l.5 -.3l.4 .2l1 1.8l.5 .3l.4 -.2l1.1 -1.8l.5 -.3l.4 .2l1.1 1.7l.4 .3l.4 -.2l1.2 -1.7l.4 -.3l.5 .2l1 1.6l.5 .3l.4 -.2l1.1 -1.7l.5 -.2l.4 .2l1 1.5l.5 .3l.4 -.2l1.1 -1.6l.5 -.2l.4 .2l1.1 1.4l.4 .3l.5 -.2l1.1 -1.5l.4 -.2l.5 .2l1.1 1.4l.4 .3l.5 -.3l1.1 -1.5l.4 -.1l.5 .2l1 1.4l.4 .2l.5 -.3l1.1 -1.4l.4 -.1l.5 .2l1 1.3l.5 .2l.4 -.2l1.1 -1.4l.5 -.1l.4 .2l1.1 1.2l.4 .2l.5 -.2l.9 -1.2l.5 -.2l.5 .1l1 1.2l.5 .2l.5 -.2l1 -1.1l.5 -.2l.4 .1l1.1 1.1l.5 .3l.4 -.2l1 -1.1l.5 -.2l.5 .1l1 1.1l.5 .2l.5 -.2l1 -1.0l.4 -.2l.5 .1l1.1 1.0l.4 .2l.5 -.2l1 -.9l.5 -.2l.5 .1l1 1.0l.5 .2l.4 -.2l1 -.9l.5 -.2l.5 .1l1 .9l.5 .2l.5 -.2l1.4 -1.0l.5 .1l1.1 .9l.4 .2l.5 -.2l1 -.8"/>
<path class="b" d="M234.3 259.4l.8 .0l.6 .3l.9 1.9l.8 3.8l1.7 11.0l.5 1.9l.4 .7l.5 -.4l.6 -1.8l2.3 -12.0l.7 -1.9l.8 -.9l.5 .1l.6 .4l.9 1.9l1 3.5l2.1 9.6l.6 1.7l.6 .5l1.1 -.8l1.5 -2.0l3 -7.1l2.3 -3.7l2.6 -3.0l2.8 -2.0l2.7 -1.1l3 -.5l18.4 -.1l.8 .1l.7 .6l.7 1.9l.6 4.1l1.2 11.2l.5 2.2l.5 -.4l.4 -1.1l2.5 -8.4l.6 -1.1l.5 -.3l.9 .5l.9 1.4l3.6 9.2l.8 1.3l.7 .5l.7 -.5l.8 -1.6l3.3 -10.3l1.7 -3.7l1.8 -1.9l3.3 -2.5l1.5 -.8l1.4 -.3l3.6 -.1l187.9 .0"/>
<path class="r" d="M234.3 259.4l2 .0l.8 .3l1.3 2.3l1.2 .9l2.3 1.0l1.9 2.6l3.4 .3l1.9 1.0l.7 .2l1 -.3l2.7 -1.8l3.7 -.5l4.3 -2.0l6.2 -1.8l9.9 -1.6l11.3 -.6l.5 .3l.8 2.1l.9 1.0l4.9 3.3l1.6 .6l4.7 .5l1.5 -.3l4.3 -1.6l14.4 -4.2l6.4 -.9l9.3 -.6l18.3 -.2l154 .0"/>
</g>
<rect x="234.30" y="241.60" width="276.20" height="159.80" fill="none" stroke="#777" stroke-width="1.1"/>
<path d="M234.30 401.40v-2.8M234.30 241.60v2.8M289.54 401.40v-2.8M289.54 241.60v2.8M344.78 401.40v-2.8M344.78 241.60v2.8M400.02 401.40v-2.8M400.02 241.60v2.8M455.26 401.40v-2.8M455.26 241.60v2.8M510.50 401.40v-2.8M510.50 241.60v2.8M234.30 401.40h2.8M510.50 401.40h-2.8M234.30 383.64h2.8M510.50 383.64h-2.8M234.30 365.89h2.8M510.50 365.89h-2.8M234.30 348.13h2.8M510.50 348.13h-2.8M234.30 330.38h2.8M510.50 330.38h-2.8M234.30 312.62h2.8M510.50 312.62h-2.8M234.30 294.87h2.8M510.50 294.87h-2.8M234.30 277.11h2.8M510.50 277.11h-2.8M234.30 259.36h2.8M510.50 259.36h-2.8M234.30 241.60h2.8M510.50 241.60h-2.8" stroke="#777" stroke-width="0.99" fill="none"/>
<text x="231.50" y="262.86" font-size="9.240000000000002" text-anchor="end"  textLength="4.89" lengthAdjust="spacingAndGlyphs">0</text>
<text x="231.50" y="298.37" font-size="9.240000000000002" text-anchor="end"  textLength="7.82" lengthAdjust="spacingAndGlyphs">-2</text>
<text x="231.50" y="333.88" font-size="9.240000000000002" text-anchor="end"  textLength="7.82" lengthAdjust="spacingAndGlyphs">-4</text>
<text x="231.50" y="369.39" font-size="9.240000000000002" text-anchor="end"  textLength="7.82" lengthAdjust="spacingAndGlyphs">-6</text>
<text x="231.50" y="404.90" font-size="9.240000000000002" text-anchor="end"  textLength="7.82" lengthAdjust="spacingAndGlyphs">-8</text>
<text x="236.00" y="416.00" font-size="9.240000000000002" text-anchor="middle"  textLength="4.89" lengthAdjust="spacingAndGlyphs">0</text>
<text x="291.24" y="416.00" font-size="9.240000000000002" text-anchor="middle"  textLength="4.89" lengthAdjust="spacingAndGlyphs">2</text>
<text x="346.48" y="416.00" font-size="9.240000000000002" text-anchor="middle"  textLength="4.89" lengthAdjust="spacingAndGlyphs">4</text>
<text x="401.72" y="416.00" font-size="9.240000000000002" text-anchor="middle"  textLength="4.89" lengthAdjust="spacingAndGlyphs">6</text>
<text x="456.96" y="416.00" font-size="9.240000000000002" text-anchor="middle"  textLength="4.89" lengthAdjust="spacingAndGlyphs">8</text>
<text x="512.20" y="416.00" font-size="9.240000000000002" text-anchor="middle"  textLength="9.79" lengthAdjust="spacingAndGlyphs">10</text>
<text x="372.70" y="430.50" font-size="8.9" text-anchor="middle" >Time (sec)</text>
<text transform="translate(206.8 329.3) rotate(-90)" font-size="8.2" text-anchor="middle" textLength="127.5" lengthAdjust="spacingAndGlyphs">Longitudinal deflection <tspan font-style="italic">u</tspan>(<tspan font-style="italic">l</tspan>, <tspan font-style="italic">t</tspan>) (m)</text>
<text x="238.40" y="237.40" font-size="8.9" text-anchor="start" >x10</text>
<text x="254.00" y="233.60" font-size="7.6" text-anchor="start" >-4</text>
<text x="499.40" y="253.70" font-size="13.2" text-anchor="middle" >(c)</text>
<rect x="392.7" y="278.2" width="95.40" height="36.20" fill="#fff"/>
<g clip-path="url(#ic)">
<path class="k" d="M392.7 299.4l.6 -2.7l.3 -.4l.2 .2l.5 1.5l1 5.6l.6 1.1l.5 -1.0l1.2 -6.1l.5 -1.3l.5 .9l1.2 5.9l.6 1.2l.5 -.9l1.2 -5.9l.3 -.9l.3 -.3l.3 .3l.3 .8l1.1 5.6l.5 1.0l.6 -1.0l1.1 -5.5l.6 -1.2l.5 .8l1.2 5.4l.6 1.1l.5 -.8l1.2 -5.4l.3 -.8l.3 -.3l.2 .3l.3 .8l1.2 5.1l.5 .8l.5 -.9l1.2 -5.0l.6 -1.1l.5 .8l1.2 4.8l.5 1.1l.5 -.8l1.2 -4.8l.3 -.8l.3 -.3l.6 1.0l1.2 4.6l.5 .8l.5 -.8l1.2 -4.6l.5 -1.0l.5 .7l1.2 4.5l.6 .9l.5 -.7l1.2 -4.4l.6 -1.0l.5 .6l1.2 4.4l.5 .8l.6 -.9l1.2 -4.2l.5 -.7l.5 .7l1.2 4.0l.6 .9l.5 -.7l1.1 -4.0l.6 -.9l.5 .6l1.2 3.9l.6 .8l.5 -.6l1.2 -3.9l.6 -.8l.5 .6l1.2 3.7l.5 .8l.5 -.6l1.2 -3.7l.6 -.8l.5 .5l1.2 3.6l.5 .8l.6 -.6l1.1 -3.5l.6 -.8l.5 .5l1.2 3.4l.6 .7l.5 -.5l1.2 -3.4l.6 -.7l.5 .5l1.1 3.2l.6 .7l.5 -.5l1.2 -3.2l.6 -.7l.5 .5l1.2 3.1l.6 .6l.5 -.5l1.1 -3.0l.6 -.7l.5 .5l1.2 2.9l.6 .6l.5 -.4l1.2 -2.9l.5 -.7l.5 .4l1.2 2.8l.6 .7l.5 -.5l1.2 -2.7l.6 -.7l.5 .4l1.2 2.7l.5 .6l.6 -.5l1.1 -2.5l.5 -.7l.6 .4l1.2 2.6l.6 .5l.5 -.4l1.1 -2.4l.5 -.7l.3 .0l.3 .3l1.2 2.5l.5 .6l.7 -.5l1 -2.2"/>
<path class="r" d="M392.7 296.3l95.4 .0"/>
<path class="b" d="M392.7 296.3l95.4 .0"/>
</g>
<rect x="392.70" y="278.20" width="95.40" height="36.20" fill="none" stroke="#777" stroke-width="1.1"/>
<path d="M392.70 314.40v-1.8M392.70 278.20v1.8M408.60 314.40v-1.8M408.60 278.20v1.8M424.50 314.40v-1.8M424.50 278.20v1.8M440.40 314.40v-1.8M440.40 278.20v1.8M456.30 314.40v-1.8M456.30 278.20v1.8M472.20 314.40v-1.8M472.20 278.20v1.8M488.10 314.40v-1.8M488.10 278.20v1.8M392.70 314.40h1.8M488.10 314.40h-1.8M392.70 296.30h1.8M488.10 296.30h-1.8M392.70 278.20h1.8M488.10 278.20h-1.8" stroke="#777" stroke-width="0.99" fill="none"/>
<text x="390.60" y="280.80" font-size="7.7" text-anchor="end" >5</text>
<text x="390.60" y="298.90" font-size="7.7" text-anchor="end" >0</text>
<text x="390.60" y="317.00" font-size="7.7" text-anchor="end" >-5</text>
<text x="393.20" y="324.60" font-size="7.6" text-anchor="middle" >6</text>
<text x="425.00" y="324.60" font-size="7.6" text-anchor="middle" >7</text>
<text x="456.80" y="324.60" font-size="7.6" text-anchor="middle" >8</text>
<text x="488.60" y="324.60" font-size="7.6" text-anchor="middle" >9</text>
<text x="392.00" y="276.80" font-size="7.4" text-anchor="start" >x10</text>
<text x="402.60" y="273.60" font-size="6.4" text-anchor="start" >-5</text>
<rect x="386.50" y="367.30" width="124.00" height="34.10" fill="#fff" stroke="#333" stroke-width="1"/>
<path d="M392.10 375.10H411.70" class="kl"/>
<text x="418.10" y="377.80" font-size="8.295" text-anchor="start"  textLength="84.45" lengthAdjust="spacingAndGlyphs">Traditional PD controller</text>
<path d="M392.10 384.10H411.70" class="b"/>
<text x="418.10" y="386.80" font-size="8.295" text-anchor="start"  textLength="82.12" lengthAdjust="spacingAndGlyphs">Input shaping controller</text>
<path d="M392.10 393.80H411.70" class="r"/>
<text x="418.10" y="396.30" font-size="8.295" text-anchor="start"  textLength="68.50" lengthAdjust="spacingAndGlyphs">Proposed controller</text>
</svg></body></html>
